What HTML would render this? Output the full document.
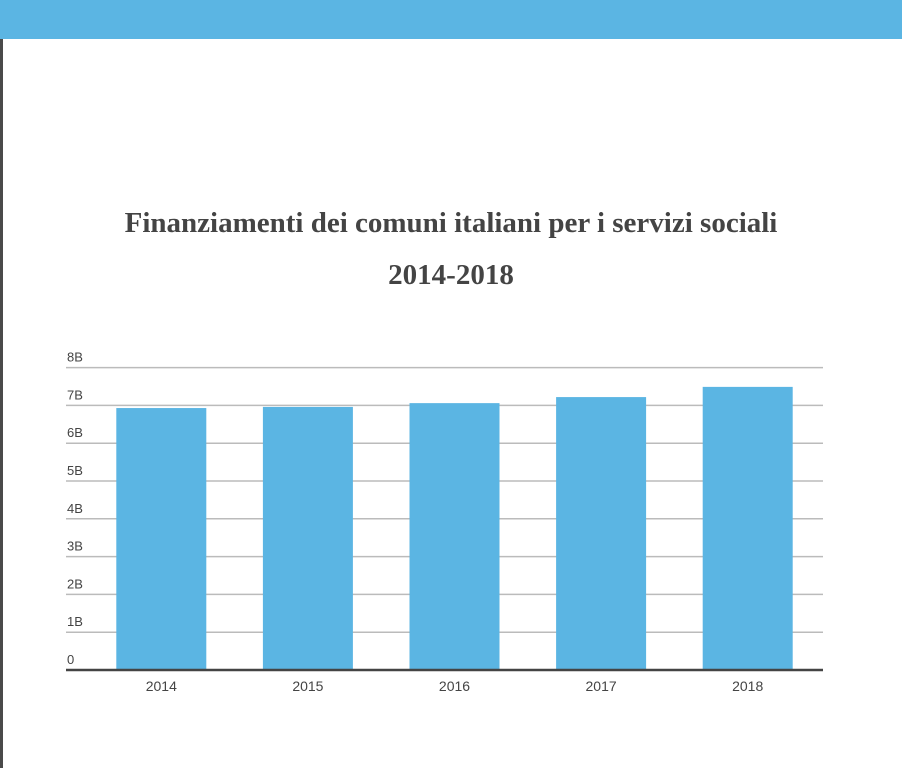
<!DOCTYPE html>
<html><head><meta charset="utf-8"><style>
body{margin:0;width:902px;height:768px;background:#fff;position:relative;overflow:hidden}
#top{position:absolute;left:0;top:0;width:902px;height:39px;background:#5bb5e3}
#lb{position:absolute;left:0;top:39px;width:3px;height:729px;background:#4a4a4a}
#title{position:absolute;left:0;width:902px;top:197px;text-align:center;font-family:"Liberation Serif",serif;font-weight:bold;font-size:29px;line-height:52px;color:#444}
svg{position:absolute;left:0;top:0}
</style></head><body>
<div id="top"></div>
<div id="lb"></div>
<div id="title">Finanziamenti dei comuni italiani per i servizi sociali<br>2014-2018</div>
<svg id="chart" width="902" height="768"></svg>
<script>
const categories=["2014","2015","2016","2017","2018"];
const values=[6.93,6.96,7.06,7.22,7.49];
const ticks=[0,1,2,3,4,5,6,7,8];
const tickLabels=["0","1B","2B","3B","4B","5B","6B","7B","8B"];
const svg=document.getElementById('chart');
const NS="http://www.w3.org/2000/svg";
const y0=670,unit=37.8,x0=66,x1=823,bandStart=88,step=146.6,bw=90;
const y=v=>y0-v*unit;
const cx=i=>bandStart+step*i+step/2;
function mk(t,a){const e=document.createElementNS(NS,t);for(const k in a)e.setAttribute(k,a[k]);svg.appendChild(e);return e;}
ticks.forEach((t,i)=>{
 if(t>0){const l=mk('line',{x1:x0,x2:x1,y1:y(t),y2:y(t),stroke:'#bbb','stroke-width':1.5});
 
 }
 const tx=mk('text',{x:67,y:y(t)-6,'font-family':'Liberation Sans,sans-serif','font-size':13,fill:'#444'});
 tx.textContent=tickLabels[i];
 
 
});
values.forEach((v,i)=>{
 const r=mk('rect',{x:cx(i)-bw/2,y:y(v),width:bw,height:y0-y(v),fill:'#5bb5e3'});
 
 
 const tx=mk('text',{x:cx(i),y:691,'text-anchor':'middle','font-family':'Liberation Sans,sans-serif','font-size':14,fill:'#444'});
 tx.textContent=categories[i];
 
 
});
const ax=mk('line',{x1:x0,x2:x1,y1:y0,y2:y0,stroke:'#444','stroke-width':2.5});


</script>
</body></html>
